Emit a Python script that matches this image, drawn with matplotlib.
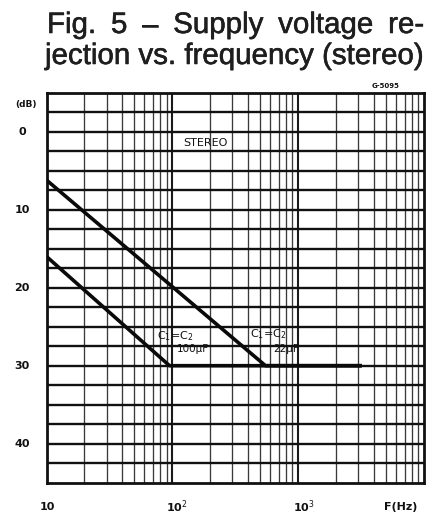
import numpy as np
import matplotlib
matplotlib.use("Agg")
import matplotlib.pyplot as plt
import matplotlib.patheffects as pe

# ---- data ----
freq_22uF = [10, 550, 3200]
svr_22uF = [6.2, 30, 30]
freq_100uF = [10, 95, 3200]
svr_100uF = [16, 30, 30]
y_ticks = [0, 10, 20, 30, 40]
y_tick_labels = ["0", "10", "20", "30", "40"]
x_ticks = [10, 100, 1000]
x_tick_labels = ["10", r"10$^2$", r"10$^3$"]
title_line1 = ["Fig.", "5", "\u2013", "Supply", "voltage", "re-"]
title_line2 = "jection vs. frequency (stereo)"

W, H = 429, 517
fig = plt.figure(figsize=(W / 100, H / 100), dpi=100)
fig.patch.set_facecolor("white")

ax_l, ax_r, ax_t, ax_b = 46.5, 424, 92.7, 482.7
ax = fig.add_axes([ax_l / W, (H - ax_b) / H, (ax_r - ax_l) / W, (ax_b - ax_t) / H])
ax.set_xscale("log")
ax.set_xlim(10, 10000)
ax.set_ylim(45, -5)

# grid
for dec in [10, 100, 1000]:
    for m in range(1, 10):
        xv = dec * m
        if 10 < xv < 10000:
            if m == 1:
                ax.axvline(xv, color="#1a1a1a", lw=1.5, zorder=1)
            else:
                ax.axvline(xv, color="#3a3a3a", lw=0.95, zorder=1)
for yv in np.arange(-2.5, 45, 2.5):
    ax.axhline(yv, color="#111111", lw=1.7, zorder=1)

for s in ax.spines.values():
    s.set_linewidth(2.0)
    s.set_color("#111111")
ax.set_xticks([])
ax.set_yticks([])
ax.minorticks_off()
ax.tick_params(which="both", length=0)

# curves
ax.plot(freq_22uF, svr_22uF, color="#0a0a0a", lw=2.6, zorder=3, solid_capstyle="butt")
ax.plot(freq_100uF, svr_100uF, color="#0a0a0a", lw=2.6, zorder=3, solid_capstyle="butt")

# annotations
lab_kw = dict(family="DejaVu Sans", color="#111111", zorder=4)
ax.text(182, 1.5, "STEREO", ha="center", va="center", fontsize=8, **lab_kw)
ax.text(75, 26.2, r"C$_1$=C$_2$", ha="left", va="center", fontsize=8, **lab_kw)
ax.text(109, 27.8, "100\u00b5F", ha="left", va="center", fontsize=7.5, **lab_kw)
ax.text(415, 25.9, r"C$_1$=C$_2$", ha="left", va="center", fontsize=8, **lab_kw)
ax.text(630, 27.8, "22\u00b5F", ha="left", va="center", fontsize=7.5, **lab_kw)

# tick labels
tl_kw = dict(fontweight="bold", color="#111111", family="DejaVu Sans")
for yv, lab in zip(y_ticks, y_tick_labels):
    ypx = 131.7 + yv * 7.8
    fig.text(22 / W, 1 - ypx / H, lab, ha="center", va="center", fontsize=8, **tl_kw)
fig.text(26 / W, 1 - 104 / H, "(dB)", ha="center", va="center", fontsize=6.5, **tl_kw)
xpos = {10: 47, 100: 177, 1000: 304}
for xv, lab in zip(x_ticks, x_tick_labels):
    fig.text(xpos[xv] / W, 1 - 507 / H, lab, ha="center", va="center", fontsize=8, **tl_kw)
fig.text(401 / W, 1 - 507 / H, "F(Hz)", ha="center", va="center", fontsize=8, **tl_kw)
fig.text(386 / W, 1 - 86 / H, "G-5095", ha="center", va="center", fontsize=5, **tl_kw)

# title, justified between x=46 and x=424
renderer = fig.canvas.get_renderer()
stroke = [pe.withStroke(linewidth=0.4, foreground="#1e1e1e")]
tkw = dict(family="Liberation Sans", color="#1e1e1e", va="baseline")
t2 = fig.text(45 / W, 1 - 64 / H, title_line2, fontsize=20, **tkw)
w2 = t2.get_window_extent(renderer).width
t2.set_fontsize(20 * (378 / w2))
t2.set_path_effects(stroke)
fs = t2.get_fontsize()
words = [fig.text(0, 1 - 33 / H, wd, fontsize=fs, path_effects=stroke, **tkw)
         for wd in title_line1]
widths = [t.get_window_extent(renderer).width for t in words]
gap = (377 - sum(widths)) / (len(words) - 1)
x = 47.0
for t, w in zip(words, widths):
    t.set_x(x / W)
    x += w + gap

fig.savefig("out.png", dpi=100, facecolor="white")
